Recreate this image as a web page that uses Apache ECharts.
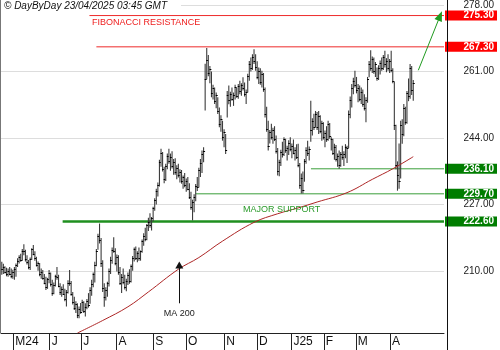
<!DOCTYPE html>
<html>
<head>
<meta charset="utf-8">
<title>DayByDay</title>
<script src="https://cdn.jsdelivr.net/npm/echarts/dist/echarts.min.js"></script>
<style>
html, body { margin: 0; padding: 0; background: #fff; }
#chart { width: 500px; height: 350px; }
</style>
</head>
<body>
<div id="chart"></div>
<script>
// daily bars, slot 0 = 22/04/2024 ... slot 261 = 22/04/2025
var highs = [
  212.3, 211.8, 211.2, 210.8, 210.6, 211.0, 210.6, 210.3, 211.0, 211.9,
  213.2, 214.0, 214.4, 215.6, 216.8, 215.4, 214.0, 212.8, 213.4, 215.8,
  216.6, 215.0, 213.6, 212.4, 212.0, 210.6, 210.2, 209.2, 208.5, 208.2,
  210.2, 209.6, 207.7, 207.0, 209.0, 211.0, 209.0, 206.8, 206.0, 206.6,
  205.4, 205.1, 207.6, 210.2, 207.4, 204.6, 203.4, 202.2, 201.7, 200.9,
  201.8, 202.6, 202.2, 201.7, 202.8, 204.3, 205.8, 207.7, 209.6, 212.3,
  215.6, 219.5, 222.1, 218.4, 212.7, 206.8, 205.8, 207.2, 210.6, 213.6,
  216.0, 218.6, 215.8, 214.2, 214.0, 211.0, 209.2, 210.6, 209.0, 208.0,
  209.6, 210.4, 211.6, 213.8, 216.0, 216.2, 215.0, 216.0, 215.2, 218.0,
  219.6, 221.0, 222.0, 223.6, 224.7, 223.8, 226.4, 228.6, 231.0, 232.6,
  238.4, 241.2, 240.4, 236.6, 237.4, 240.0, 241.2, 240.0, 240.6, 238.6,
  238.8, 237.0, 237.4, 236.0, 235.8, 234.4, 235.0, 233.6, 234.0, 232.4,
  230.2, 228.2, 229.6, 232.2, 234.0, 236.4, 238.6, 240.8, 241.6, 263.0,
  267.0, 265.2, 262.4, 261.0, 257.6, 256.9, 255.6, 254.4, 251.8, 249.8,
  248.4, 246.2, 245.0, 256.0, 257.4, 255.8, 256.9, 255.6, 257.6, 256.9,
  257.8, 258.6, 258.0, 259.5, 258.2, 256.4, 260.4, 263.7, 264.6, 265.4,
  266.7, 265.4, 263.6, 262.0, 261.8, 261.2, 260.6, 256.9, 252.0, 248.4,
  246.0, 247.6, 246.6, 247.0, 244.6, 241.4, 238.4, 241.0, 243.0, 244.2,
  243.8, 242.0, 243.4, 244.2, 242.6, 243.6, 241.6, 242.4, 242.5, 237.6,
  234.9, 235.4, 238.6, 241.6, 243.3, 241.8, 253.5, 249.0, 250.2, 250.9,
  250.6, 250.9, 249.8, 248.4, 248.0, 245.9, 247.0, 248.4, 247.8, 244.2,
  243.8, 242.5, 242.2, 240.0, 240.8, 240.4, 242.0, 240.6, 242.4, 242.0,
  251.0, 254.6, 257.8, 259.4, 261.2, 259.6, 257.8, 257.4, 256.9, 256.4,
  255.2, 254.4, 259.6, 263.7, 266.4, 264.8, 264.6, 263.4, 262.0, 262.6,
  263.8, 264.6, 265.2, 266.3, 264.4, 265.4, 264.2, 266.3, 261.8, 258.4,
  247.4, 238.0, 242.6, 248.4, 248.8, 252.7, 252.0, 256.0, 259.2, 262.9,
  262.4, 258.8
];
var lows = [
  209.0, 209.2, 209.3, 208.6, 208.5, 208.9, 208.1, 208.0, 207.7, 208.5,
  211.0, 211.9, 212.3, 212.6, 214.0, 212.4, 211.6, 210.4, 210.2, 212.8,
  214.0, 212.6, 211.1, 210.0, 208.6, 208.0, 207.7, 206.6, 205.1, 205.4,
  206.8, 206.0, 203.6, 204.0, 206.0, 207.7, 205.8, 203.8, 203.4, 203.8,
  202.2, 200.9, 204.2, 206.2, 203.6, 201.4, 200.0, 199.2, 197.9, 197.9,
  199.0, 199.6, 199.2, 198.3, 200.2, 200.6, 201.6, 203.6, 205.8, 207.0,
  211.2, 215.4, 217.0, 211.0, 204.6, 200.8, 202.4, 203.4, 206.0, 209.2,
  211.8, 214.6, 211.4, 209.8, 209.0, 206.4, 204.3, 206.6, 205.2, 204.8,
  206.4, 206.7, 207.0, 210.0, 212.4, 212.8, 212.2, 212.6, 212.6, 214.6,
  216.4, 217.6, 217.8, 220.2, 221.0, 220.3, 222.6, 225.4, 227.0, 229.0,
  231.6, 236.6, 235.4, 232.4, 233.0, 236.0, 237.4, 235.6, 236.2, 234.6,
  234.6, 233.4, 233.9, 232.6, 232.3, 231.0, 231.4, 230.2, 230.6, 228.4,
  225.6, 222.9, 225.0, 227.8, 230.4, 231.3, 234.0, 235.0, 237.8, 251.0,
  259.0, 259.8, 258.0, 254.4, 253.8, 252.7, 251.6, 250.1, 246.7, 245.6,
  243.3, 241.6, 239.9, 249.2, 252.6, 252.0, 253.5, 252.2, 253.8, 254.3,
  254.0, 255.2, 254.8, 256.1, 254.6, 252.7, 255.6, 258.6, 261.0, 261.4,
  262.9, 261.2, 259.0, 257.8, 257.6, 256.9, 255.8, 249.2, 245.6, 240.8,
  242.6, 243.6, 242.5, 243.2, 240.0, 234.4, 234.2, 236.8, 239.0, 239.4,
  240.2, 238.2, 239.6, 240.6, 238.8, 239.8, 238.2, 238.6, 236.5, 231.0,
  229.8, 229.8, 232.8, 237.4, 239.4, 238.2, 243.0, 244.6, 246.0, 246.7,
  246.0, 245.0, 245.2, 243.3, 243.6, 241.6, 243.0, 243.3, 243.8, 240.8,
  239.6, 238.4, 238.0, 236.6, 236.1, 236.6, 238.4, 236.8, 238.8, 237.6,
  241.4, 249.0, 251.8, 255.2, 256.9, 255.4, 253.1, 253.4, 252.7, 252.0,
  251.0, 248.0, 253.0, 259.5, 261.2, 260.6, 260.4, 259.6, 258.6, 258.8,
  260.2, 261.2, 261.4, 262.0, 260.8, 261.2, 260.6, 260.8, 258.0, 246.0,
  236.0, 230.5, 231.0, 233.6, 242.5, 244.4, 247.4, 247.6, 253.4, 254.0,
  255.0, 253.5
];
var closes = [
  210.5, 211.0, 209.8, 209.2, 210.0, 209.3, 208.8, 209.6, 210.4, 211.4,
  212.6, 213.5, 212.8, 215.2, 215.0, 213.0, 212.2, 211.0, 213.0, 215.5,
  214.4, 213.2, 211.6, 212.0, 209.2, 209.8, 208.2, 207.0, 205.8, 207.8,
  209.4, 206.6, 204.4, 206.4, 208.6, 208.4, 206.2, 204.6, 205.4, 204.2,
  202.8, 204.6, 207.0, 206.8, 204.0, 202.0, 200.6, 201.6, 198.6, 200.2,
  199.4, 202.0, 199.8, 200.8, 202.4, 201.2, 205.2, 206.6, 209.2, 211.6,
  215.0, 218.8, 218.0, 212.0, 205.6, 203.2, 205.0, 206.8, 210.0, 212.8,
  215.4, 215.2, 212.0, 213.6, 209.6, 207.0, 208.4, 207.2, 205.8, 207.4,
  209.0, 207.4, 211.2, 213.2, 215.6, 213.4, 214.6, 213.2, 215.0, 217.6,
  219.0, 218.2, 221.6, 222.6, 221.6, 223.4, 226.0, 228.0, 230.4, 232.0,
  237.8, 240.2, 236.0, 233.4, 236.8, 239.4, 238.0, 239.2, 236.8, 237.8,
  235.2, 236.4, 234.4, 235.2, 233.0, 234.0, 232.0, 233.0, 231.0, 229.0,
  226.4, 227.6, 229.0, 231.6, 231.4, 235.8, 237.6, 239.8, 240.6, 259.0,
  264.0, 260.6, 261.6, 255.4, 256.8, 253.4, 255.0, 250.8, 247.6, 248.8,
  244.2, 245.4, 240.8, 255.0, 253.6, 255.2, 254.0, 255.0, 257.0, 254.8,
  257.2, 256.0, 257.6, 256.8, 255.2, 255.8, 259.8, 262.8, 261.8, 264.8,
  263.6, 262.2, 259.6, 261.2, 258.2, 260.4, 256.4, 250.2, 246.4, 242.0,
  245.4, 244.2, 246.0, 243.8, 240.6, 235.6, 237.8, 240.4, 239.8, 243.6,
  240.8, 241.4, 242.8, 241.2, 242.0, 240.2, 241.0, 239.2, 237.2, 232.0,
  233.8, 230.6, 238.0, 240.8, 240.2, 241.2, 246.0, 248.4, 246.8, 250.2,
  246.8, 249.6, 245.8, 247.8, 244.2, 245.2, 243.6, 247.6, 244.4, 243.6,
  240.2, 241.8, 238.6, 239.4, 237.0, 239.8, 239.0, 240.0, 241.8, 241.4,
  250.2, 253.8, 256.8, 258.6, 257.6, 256.2, 256.8, 254.0, 255.8, 252.8,
  251.6, 253.6, 259.0, 262.8, 262.0, 264.2, 261.0, 262.8, 259.2, 262.0,
  263.2, 261.8, 264.8, 262.8, 263.8, 261.8, 263.6, 261.4, 258.6, 247.2,
  237.0, 234.6, 233.0, 247.2, 245.0, 251.6, 248.2, 255.4, 254.8, 261.8,
  256.2, 258.0
];

// MA 200: [slot, value]
var ma200 = [
  [48, 194.1], [64, 197.3], [80, 200.8], [93, 204.6], [112, 210.4],
  [125, 213.4], [140, 217.6], [160, 222.4], [175, 224.6], [188, 226.1],
  [200, 227.6], [219, 230.0], [235, 233.4], [248, 236.1], [261, 239.2]
];

// month separators (slot boundaries) and their labels
var monthTicks = [7.25, 30.4, 50.35, 72.8, 96.1, 116.9, 141.1, 161.9, 183.7, 204.3, 224.6, 246.3];
var monthLabels = ['M24', 'J', 'J', 'A', 'S', 'O', 'N', 'D', 'J25', 'F', 'M', 'A'];
var priceTicks = [210, 227, 244, 261, 278];

// horizontal levels and the slot where each line starts
var levels = [275.3, 267.3, 236.1, 229.7, 222.6];
var levelFrom = [55.6, 60.0, 196.1, 123.0, 38.6];
var levelColor = ['#ee2a2a', '#ee2a2a', '#3a9e3a', '#3a9e3a', '#1f8f1f'];
var levelWidth = [1, 1, 1, 1, 2.5];

var lastSlot = 280.5;
var yMin = 194.1, yMax = 279.0;

var arrowFrom = [264.2, 261.3], arrowTo = [278.0, 275.2];
var maArrowFrom = [112.6, 201.7], maArrowTo = [112.6, 211.5];

var FONT = '"Liberation Sans", Arial, sans-serif';

var bars = [];
for (var i = 0; i < highs.length; i++) {
  bars.push([i, highs[i], lows[i], closes[i]]);
}

var series = [{
  type: 'custom',
  name: 'price',
  data: bars,
  clip: true,
  z: 3,
  encode: { x: 0, y: [1, 2, 3] },
  renderItem: function (params, api) {
    var i = api.value(0);
    var hi = api.coord([i, api.value(1)]);
    var lo = api.coord([i, api.value(2)]);
    var cl = api.coord([i, api.value(3)]);
    var x = hi[0];
    var yc = Math.round(cl[1]) + 0.5;
    return {
      type: 'group',
      children: [
        { type: 'line', shape: { x1: x, y1: hi[1], x2: x, y2: lo[1] }, style: { stroke: '#3c3c3c', lineWidth: 1.1 } },
        { type: 'line', shape: { x1: x - 0.5, y1: yc, x2: x + 1.5, y2: yc }, style: { stroke: '#000', lineWidth: 1 } }
      ]
    };
  }
}];

// one short line series per level
for (var k = 0; k < levels.length; k++) {
  series.push({
    type: 'line',
    name: 'level ' + levels[k],
    data: [[levelFrom[k], levels[k]], [lastSlot, levels[k]]],
    showSymbol: false,
    silent: true,
    z: 2,
    lineStyle: { color: levelColor[k], width: levelWidth[k] }
  });
}

series.push({
  type: 'line',
  name: 'MA 200',
  data: ma200,
  smooth: 0.4,
  showSymbol: false,
  clip: true,
  z: 4,
  lineStyle: { color: '#ad2626', width: 1 },
  markLine: {
    silent: true,
    symbol: 'none',
    animation: false,
    label: { show: false },
    data: [
      [
        { coord: arrowFrom, lineStyle: { color: '#1f9a1f', width: 1, type: 'solid' } },
        { coord: arrowTo, symbol: 'triangle', symbolSize: [8, 10], lineStyle: { color: '#1f9a1f', width: 1, type: 'solid' } }
      ],
      [
        { coord: maArrowFrom, lineStyle: { color: '#111', width: 1, type: 'solid' },
          label: { show: true, position: 'start', formatter: 'MA 200', color: '#222', fontSize: 9, fontFamily: FONT, distance: 6 } },
        { coord: maArrowTo, symbol: 'triangle', symbolSize: [8, 7], lineStyle: { color: '#111', width: 1, type: 'solid' } }
      ]
    ]
  }
});

var chart = echarts.init(document.getElementById('chart'), null, { renderer: 'canvas' });

chart.setOption({
  animation: false,
  backgroundColor: '#fff',
  grid: { left: 1, right: 53, top: 0, bottom: 17 },
  xAxis: {
    type: 'value',
    min: -0.5,
    max: lastSlot,
    axisLine: { show: true, lineStyle: { color: '#222', width: 1 } },
    axisTick: { show: true, customValues: monthTicks, length: 17, lineStyle: { color: '#222' } },
    axisLabel: {
      customValues: monthTicks,
      formatter: function (v) {
        var j = monthTicks.indexOf(v);
        return j >= 0 ? monthLabels[j] : '';
      },
      align: 'left', padding: [0, 0, 0, 2], margin: 3,
      fontSize: 12, color: '#111', fontFamily: FONT
    },
    splitLine: { show: false }
  },
  yAxis: [{
    type: 'value',
    position: 'right',
    min: yMin,
    max: yMax,
    axisLine: { show: false },
    axisTick: { show: false, customValues: priceTicks },
    axisLabel: {
      customValues: priceTicks,
      formatter: function (v) { return v.toFixed(2); },
      align: 'right', margin: 50, fontSize: 10, color: '#222', fontFamily: FONT
    },
    splitLine: { show: true, lineStyle: { color: '#dddddd', width: 1 } }
  }, {
    type: 'value',
    position: 'right',
    min: yMin,
    max: yMax,
    axisLine: { show: false },
    axisTick: { show: false, customValues: levels },
    splitLine: { show: false },
    axisLabel: {
      customValues: levels,
      margin: 1,
      formatter: function (v) {
        return '{' + (v > 250 ? 'r' : 'g') + '|' + v.toFixed(2) + '}';
      },
      rich: {
        r: { backgroundColor: '#ff0000', color: '#fff', fontWeight: 'bold', fontSize: 10, fontFamily: FONT,
             width: 46, align: 'right', lineHeight: 11, padding: [0, 3, 0, 3] },
        g: { backgroundColor: '#007d00', color: '#fff', fontWeight: 'bold', fontSize: 10, fontFamily: FONT,
             width: 46, align: 'right', lineHeight: 11, padding: [0, 3, 0, 3] }
      }
    }
  }],
  series: series,
  graphic: [
    { type: 'line', z: 100, shape: { x1: 0.5, y1: 0, x2: 0.5, y2: 333 }, style: { stroke: '#777', lineWidth: 1 } },
    { type: 'line', z: 100, shape: { x1: 447.5, y1: 0, x2: 447.5, y2: 350 }, style: { stroke: '#111', lineWidth: 1 } },
    { type: 'rect', z: 100, shape: { x: 1, y: 0, width: 180, height: 11 }, style: { fill: '#fff' } },
    { type: 'text', z: 101, left: 4, top: 1,
      style: { text: '\u00a9 DayByDay 23/04/2025 03:45 GMT', fill: '#111', font: 'italic 10px ' + FONT } },
    { type: 'text', z: 101, left: 92, top: 18,
      style: { text: 'FIBONACCI RESISTANCE', fill: '#ee1c1c', font: '9px ' + FONT } },
    { type: 'text', z: 101, left: 243, top: 205,
      style: { text: 'MAJOR SUPPORT', fill: '#2a9a2a', font: '9px ' + FONT } }
  ]
});
</script>
</body>
</html>
